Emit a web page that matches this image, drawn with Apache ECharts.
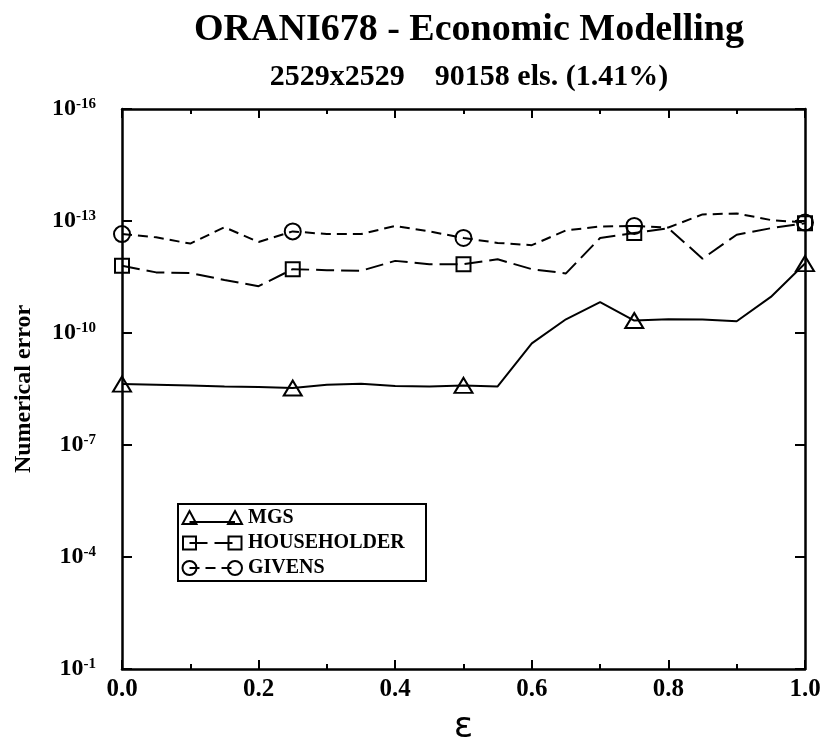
<!DOCTYPE html>
<html>
<head>
<meta charset="utf-8">
<script src="https://cdn.jsdelivr.net/npm/echarts@6/dist/echarts.min.js"></script>
<style>
  html, body { margin: 0; padding: 0; background: #fff; }
  #chart { width: 825px; height: 751px; }
</style>
</head>
<body>
<div id="chart"></div>
<script>
// Perturbation parameter epsilon (x) and numerical error of each QR method (y)
var epsValues = [0.00, 0.05, 0.10, 0.15, 0.20, 0.25, 0.30, 0.35, 0.40, 0.45, 0.50,
                 0.55, 0.60, 0.65, 0.70, 0.75, 0.80, 0.85, 0.90, 0.95, 1.00];

var mgsError = [2.33e-9, 2.42e-9, 2.53e-9, 2.69e-9, 2.80e-9, 2.98e-9, 2.42e-9, 2.28e-9,
                2.64e-9, 2.69e-9, 2.53e-9, 2.69e-9, 1.90e-10, 4.29e-11, 1.49e-11, 4.63e-11,
                4.29e-11, 4.36e-11, 4.83e-11, 1.08e-11, 1.38e-12];

var householderError = [1.58e-12, 2.38e-12, 2.48e-12, 3.79e-12, 5.56e-12, 1.95e-12, 2.07e-12,
                        2.15e-12, 1.17e-12, 1.44e-12, 1.44e-12, 1.06e-12, 1.95e-12, 2.53e-12,
                        2.85e-13, 2.11e-13, 1.56e-13, 1.02e-12, 2.33e-13, 1.56e-13, 1.15e-13];

var givensError = [2.24e-13, 2.74e-13, 4.03e-13, 1.47e-13, 3.64e-13, 1.90e-13, 2.24e-13,
                   2.24e-13, 1.36e-13, 1.90e-13, 2.85e-13, 3.86e-13, 4.44e-13, 1.79e-13,
                   1.40e-13, 1.36e-13, 1.49e-13, 6.67e-14, 6.27e-14, 9.42e-14, 1.10e-13];

var seriesNames = ['MGS', 'HOUSEHOLDER', 'GIVENS'];
var yTickValues = [1e-16, 1e-13, 1e-10, 1e-7, 1e-4, 1e-1];
var xTickLabels = ['0.0', '0.2', '0.4', '0.6', '0.8', '1.0'];

var titleText = 'ORANI678 - Economic Modelling';
var subtitleText = '2529x2529    90158 els. (1.41%)';

var SERIF = '"Liberation Serif", "Times New Roman", serif';
var MARK_EVERY = 5;

// per-series drawing style: marker shape/size and line dash
var styles = [
  { symbol: 'triangle', size: [18, 15], dash: 'solid' },
  { symbol: 'rect', size: 14, dash: [18, 7] },
  { symbol: 'circle', size: 16, dash: [10, 6] }
];
var seriesValues = [mgsError, householderError, givensError];

function buildData(values, symbol) {
  return values.map(function (v, i) {
    return {
      value: [epsValues[i], v],
      symbol: (i % MARK_EVERY === 0) ? symbol : 'none'
    };
  });
}

var series = seriesNames.map(function (name, k) {
  return {
    name: name,
    type: 'line',
    clip: false,
    data: buildData(seriesValues[k], styles[k].symbol),
    symbolSize: styles[k].size,
    showSymbol: true,
    lineStyle: { color: '#000', width: 2, type: styles[k].dash },
    itemStyle: { color: 'rgba(0,0,0,0)', borderColor: '#000', borderWidth: 2 },
    emphasis: { disabled: true },
    z: 3 + k
  };
});

// legend drawn as a framed box with marker-line-marker samples
var legendLeft = 178, legendTop = 504, legendW = 248, legendH = 77;
var rowY0 = 518, rowStep = 25, symL = 189.5, symR = 235, textX = 248;

function legendSymbol(shape, cx, cy) {
  var st = { fill: 'none', stroke: '#000', lineWidth: 2 };
  if (shape === 'triangle') {
    return { type: 'polygon', shape: { points: [[cx, cy - 7], [cx + 7, cy + 6], [cx - 7, cy + 6]] }, style: st };
  }
  if (shape === 'rect') {
    return { type: 'rect', shape: { x: cx - 6.5, y: cy - 6.5, width: 13, height: 13 }, style: st };
  }
  return { type: 'circle', shape: { cx: cx, cy: cy, r: 7 }, style: st };
}

var legendGraphics = [{
  type: 'rect',
  shape: { x: legendLeft, y: legendTop, width: legendW, height: legendH },
  style: { fill: '#fff', stroke: '#000', lineWidth: 2 },
  z: 10
}];
seriesNames.forEach(function (name, k) {
  var y = rowY0 + rowStep * k;
  var lineY = k === 0 ? y + 4 : y;
  legendGraphics.push({
    type: 'line',
    shape: { x1: symL, y1: lineY, x2: symR, y2: lineY },
    style: { stroke: '#000', lineWidth: 2, lineDash: styles[k].dash === 'solid' ? null : styles[k].dash },
    z: 11
  });
  legendGraphics.push(Object.assign(legendSymbol(styles[k].symbol, symL, y), { z: 12 }));
  legendGraphics.push(Object.assign(legendSymbol(styles[k].symbol, symR, y), { z: 12 }));
  legendGraphics.push({
    type: 'text',
    x: textX, y: y,
    style: { text: name, fill: '#000', font: 'bold 20px ' + SERIF, textVerticalAlign: 'middle' },
    z: 12
  });
});

function powLabel(v) {
  return '{b|10}{s|' + Math.round(Math.log10(v)) + '}';
}

var tickLabelRich = {
  b: { fontFamily: SERIF, fontWeight: 'bold', fontSize: 24, lineHeight: 24, padding: [10, 0, 10, 0], color: '#000' },
  s: { fontFamily: SERIF, fontWeight: 'bold', fontSize: 15, lineHeight: 16, verticalAlign: 'top', color: '#000' }
};

var axisLineStyle = { show: true, onZero: false, lineStyle: { color: '#000', width: 2.5 } };

var xCommon = {
  type: 'value', min: 0, max: 1, interval: 0.2,
  axisLine: axisLineStyle,
  axisTick: { show: true, inside: true, length: 9, lineStyle: { color: '#000', width: 2 } },
  minorTick: { show: true, splitNumber: 2, length: 5, lineStyle: { color: '#000', width: 2 } },
  splitLine: { show: false }
};

var yCommon = {
  type: 'log', logBase: 10, min: 1e-16, max: 1e-1, inverse: true,
  axisLine: axisLineStyle,
  axisTick: { show: true, inside: true, length: 10, customValues: yTickValues, lineStyle: { color: '#000', width: 2 } },
  minorTick: { show: false },
  splitLine: { show: false }
};

var option = {
  animation: false,
  backgroundColor: '#fff',
  title: [
    { text: titleText, left: 464, top: 6, textAlign: 'center',
      textStyle: { fontFamily: SERIF, fontWeight: 'bold', fontSize: 38, lineHeight: 38, color: '#000' } },
    { text: subtitleText, left: 464, top: 57, textAlign: 'center',
      textStyle: { fontFamily: SERIF, fontWeight: 'bold', fontSize: 30, lineHeight: 30, color: '#000' } }
  ],
  grid: { left: 122, right: 20, top: 109, bottom: 71, containLabel: false },
  xAxis: [
    Object.assign({}, xCommon, {
      position: 'bottom',
      name: 'ε', nameLocation: 'middle', nameGap: 41,
      nameTextStyle: { fontFamily: '"DejaVu Sans", sans-serif', fontSize: 36, color: '#000' },
      axisLabel: {
        show: true, margin: 8, color: '#000',
        fontFamily: SERIF, fontWeight: 'bold', fontSize: 25,
        formatter: function (v) {
          var idx = Math.round(v / 0.2);
          return xTickLabels[idx] !== undefined ? xTickLabels[idx] : '';
        }
      }
    }),
    Object.assign({}, xCommon, { position: 'top', axisLabel: { show: false } })
  ],
  yAxis: [
    Object.assign({}, yCommon, {
      position: 'left',
      name: 'Numerical error', nameLocation: 'middle', nameGap: 86, nameRotate: 90,
      nameTextStyle: { fontFamily: SERIF, fontWeight: 'bold', fontSize: 24, color: '#000' },
      axisLabel: { show: true, margin: 26, customValues: yTickValues, formatter: powLabel, rich: tickLabelRich }
    }),
    Object.assign({}, yCommon, { position: 'right', axisLabel: { show: false } })
  ],
  series: series,
  graphic: legendGraphics
};

var chart = echarts.init(document.getElementById('chart'), null, { renderer: 'canvas' });
chart.setOption(option);
</script>
</body>
</html>
